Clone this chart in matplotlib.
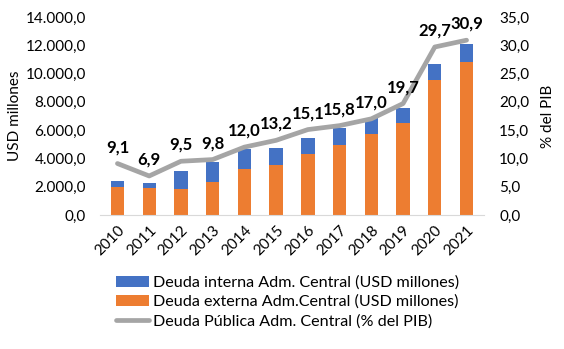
import matplotlib
matplotlib.use("Agg")
import matplotlib.pyplot as plt
import numpy as np

years = ["2010", "2011", "2012", "2013", "2014", "2015", "2016", "2017", "2018", "2019", "2020", "2021"]
externa = [1960, 1930, 1840, 2310, 3250, 3540, 4310, 4970, 5730, 6500, 9570, 10840]
interna_total = [2430, 2280, 3130, 3730, 4670, 4760, 5470, 6170, 6840, 7590, 10680, 12090]
interna = [t - e for t, e in zip(interna_total, externa)]
pib = [9.1, 6.9, 9.5, 9.8, 12.0, 13.2, 15.1, 15.8, 17.0, 19.7, 29.7, 30.9]

plt.rcParams['font.family'] = ['Lato', 'DejaVu Sans']
fs = 11

fig = plt.figure(figsize=(5.64, 3.49), dpi=100)
W, H = 564, 349
ax = fig.add_axes([100 / W, 1 - 215 / H, (484 - 100) / W, (215 - 17) / H])
x = np.arange(len(years))
bw = 0.42
orange = "#ED7D31"
blue = "#4472C4"
ax.bar(x, externa, bw, color=orange, label="Deuda externa Adm.Central (USD millones)", zorder=2)
ax.bar(x, interna, bw, bottom=externa, color=blue, label="Deuda interna Adm. Central (USD millones)", zorder=2)
ax.set_ylim(0, 14000)
ax.set_xlim(-0.55, len(years) - 0.45)
ax.set_yticks(np.arange(0, 14001, 2000))
ax.set_yticklabels([f"{v:,.1f}".replace(",", "X").replace(".", ",").replace("X", ".") for v in np.arange(0, 14001, 2000)], fontsize=fs)
ax.set_xticks(x)
ax.set_xticklabels(years, rotation=45, ha='right', rotation_mode='anchor', fontsize=fs)
ax.tick_params(axis='y', length=0, pad=10)
ax.tick_params(axis='x', length=0, pad=6)
for s in ['top', 'left', 'right']:
    ax.spines[s].set_visible(False)
ax.spines['bottom'].set_color('#D9D9D9')
ax.set_ylabel("USD millones", fontsize=fs, labelpad=3)

ax2 = ax.twinx()
ax2.plot(x, pib, color="#A5A5A5", lw=3.4, solid_capstyle='round', solid_joinstyle='round',
         label="Deuda Pública Adm. Central (% del PIB)", zorder=3)
ax2.set_ylim(0, 35)
ax2.set_yticks(np.arange(0, 35.1, 5))
ax2.set_yticklabels([f"{v:.1f}".replace(".", ",") for v in np.arange(0, 35.1, 5)], fontsize=fs)
ax2.tick_params(axis='y', length=0, pad=11)
for s in ['top', 'left', 'right', 'bottom']:
    ax2.spines[s].set_visible(False)
ax2.set_ylabel("% del PIB", fontsize=fs, labelpad=8)
for xi, v in zip(x, pib):
    ax2.annotate(f"{v:.1f}".replace(".", ","), (xi, v), xytext=(0, 6), textcoords='offset points',
                 ha='center', va='bottom', fontsize=12, fontweight='bold')

h1, l1 = ax.get_legend_handles_labels()
h2, l2 = ax2.get_legend_handles_labels()
handles = [h1[1], h1[0], h2[0]]
labels = [l1[1], l1[0], l2[0]]
fig.legend(handles, labels, loc='center', bbox_to_anchor=(288 / W, 1 - 302 / H), frameon=False,
           fontsize=11.6, handlelength=2.0, handletextpad=0.3, labelspacing=0.3)

fig.savefig("out.png", dpi=100)
